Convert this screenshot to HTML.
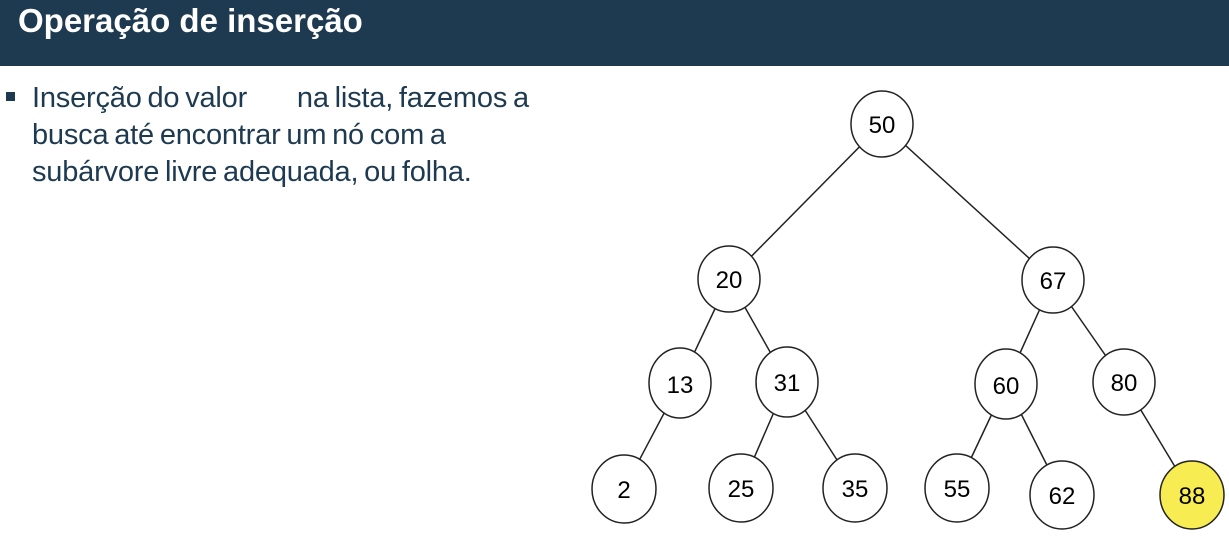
<!DOCTYPE html>
<html><head><meta charset="utf-8"><style>
body{margin:0;width:1229px;height:539px;background:#fff;position:relative;overflow:hidden;font-family:"Liberation Sans",sans-serif}
.hdr{position:absolute;left:0;top:0;width:1229px;height:66px;background:#1e3a50}
.hdr span{position:absolute;left:18px;top:2px;color:#fff;font-weight:bold;font-size:33px}
.txt{position:absolute;left:32px;top:80px;color:#1e3a50;font-size:29px;line-height:37px;letter-spacing:-0.2px;word-spacing:-2px;white-space:nowrap}
.bul{position:absolute;left:6px;top:92px;width:9px;height:9px;background:#1e3a50}
</style></head><body>
<div class="hdr"><span>Operação de inserção</span></div>
<div class="bul"></div>
<div class="txt">Inserção do valor <span style="display:inline-block;width:44px"></span>na lista, fazemos a<br>busca até encontrar um nó com a<br>subárvore livre adequada, ou folha.</div>
<svg width="1229" height="539" style="position:absolute;left:0;top:0" font-family="Liberation Sans, sans-serif" font-size="24">
<g stroke="#222" stroke-width="1.5">
<line x1="882" y1="124" x2="729" y2="279"/><line x1="882" y1="124" x2="1053" y2="280"/>
<line x1="729" y1="279" x2="680" y2="383"/><line x1="729" y1="279" x2="787" y2="382"/>
<line x1="1053" y1="280" x2="1006" y2="384"/><line x1="1053" y1="280" x2="1124" y2="382"/>
<line x1="680" y1="383" x2="624" y2="489"/>
<line x1="787" y1="382" x2="741" y2="488"/><line x1="787" y1="382" x2="855" y2="488"/>
<line x1="1006" y1="384" x2="957" y2="488"/><line x1="1006" y1="384" x2="1062" y2="495"/>
<line x1="1124" y1="382" x2="1192" y2="495"/>
</g>
<g stroke="#222" stroke-width="1.5" fill="#fff">
<ellipse cx="882" cy="124" rx="31" ry="33"/>
<ellipse cx="729" cy="279" rx="31" ry="33"/>
<ellipse cx="1053" cy="280" rx="31" ry="33"/>
<ellipse cx="680" cy="383" rx="31" ry="35"/>
<ellipse cx="787" cy="382" rx="31" ry="35"/>
<ellipse cx="1006" cy="384" rx="31" ry="35"/>
<ellipse cx="1124" cy="382" rx="31" ry="33"/>
<ellipse cx="624" cy="489" rx="32" ry="34"/>
<ellipse cx="741" cy="488" rx="32" ry="34"/>
<ellipse cx="855" cy="488" rx="32" ry="34"/>
<ellipse cx="957" cy="488" rx="32" ry="34"/>
<ellipse cx="1062" cy="495" rx="32" ry="34"/>
<ellipse cx="1192" cy="495" rx="32" ry="34" fill="#f7ec52"/>
</g>
<g text-anchor="middle" fill="#000">
<text x="882" y="133">50</text><text x="729" y="288">20</text><text x="1053" y="289">67</text>
<text x="680" y="393">13</text><text x="787" y="391">31</text><text x="1006" y="394">60</text><text x="1124" y="391">80</text>
<text x="624" y="498">2</text><text x="741" y="497">25</text><text x="855" y="497">35</text><text x="957" y="497">55</text><text x="1062" y="504">62</text><text x="1192" y="504">88</text>
</g>
</svg>
</body></html>
